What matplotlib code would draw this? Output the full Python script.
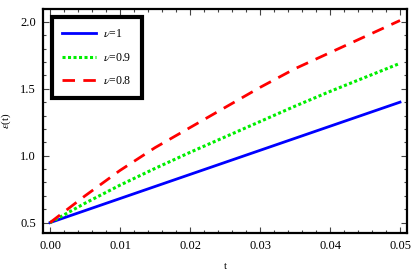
import matplotlib
matplotlib.use("Agg")
import matplotlib.pyplot as plt
from matplotlib.ticker import MultipleLocator

# values
t = [0.0, 0.005, 0.01, 0.015, 0.02, 0.025, 0.03, 0.035, 0.04, 0.045, 0.05]
eps_nu1 = [0.5, 0.59, 0.68, 0.77, 0.86, 0.95, 1.04, 1.13, 1.22, 1.31, 1.40]
eps_nu09 = [0.5, 0.645, 0.78, 0.905, 1.025, 1.14, 1.255, 1.37, 1.48, 1.585, 1.69]
eps_nu08 = [0.5, 0.70, 0.89, 1.06, 1.21, 1.36, 1.51, 1.65, 1.77, 1.89, 2.01]
labels = [r"$\nu$=1", r"$\nu$=0.9", r"$\nu$=0.8"]

plt.rcParams["font.family"] = ["Liberation Serif", "DejaVu Serif"]
plt.rcParams["mathtext.fontset"] = "stix"

fig = plt.figure(figsize=(4.16, 2.76), dpi=100)
ax = fig.add_axes([0.1034, 0.156, 0.875, 0.811])

ax.plot(t, eps_nu1, color="#0000ff", lw=2, ls="-", label=labels[0])
ax.plot(t, eps_nu09, color="#00ee00", lw=2.2, ls=(0, (1, 0.8)), label=labels[1])
ax.plot(t, eps_nu08, color="#ff0000", lw=2, ls=(0, (4.5, 3)), label=labels[2])

ax.set_xlim(-0.001, 0.051)
ax.set_ylim(0.423, 2.095)
ax.xaxis.set_major_locator(MultipleLocator(0.01))
ax.xaxis.set_minor_locator(MultipleLocator(0.002))
ax.yaxis.set_major_locator(MultipleLocator(0.5))
ax.yaxis.set_minor_locator(MultipleLocator(0.1))
ax.xaxis.set_major_formatter(plt.FuncFormatter(lambda v, p: f"{v:.2f}"))
ax.yaxis.set_major_formatter(plt.FuncFormatter(lambda v, p: f"{v:.1f}"))
ax.tick_params(which="both", direction="in", top=True, right=True,
               labelsize=9, width=0.8, color="#444444")
ax.tick_params(which="major", length=4, pad=5)
ax.tick_params(which="minor", length=2)
for s in ax.spines.values():
    s.set_linewidth(1.6)

ax.set_xlabel("t", fontsize=8, labelpad=7)
ax.set_ylabel(r"$\varepsilon$(t)", fontsize=8, labelpad=5)

leg = ax.legend(loc="upper left", fontsize=8.5, frameon=True, fancybox=False,
                framealpha=1, borderpad=0.9, labelspacing=1.0,
                handlelength=2.8, handletextpad=0.6,
                bbox_to_anchor=(0.008, 0.99))
leg.get_frame().set_edgecolor("black")
leg.get_frame().set_linewidth(3)

fig.savefig("out.png", dpi=100)
